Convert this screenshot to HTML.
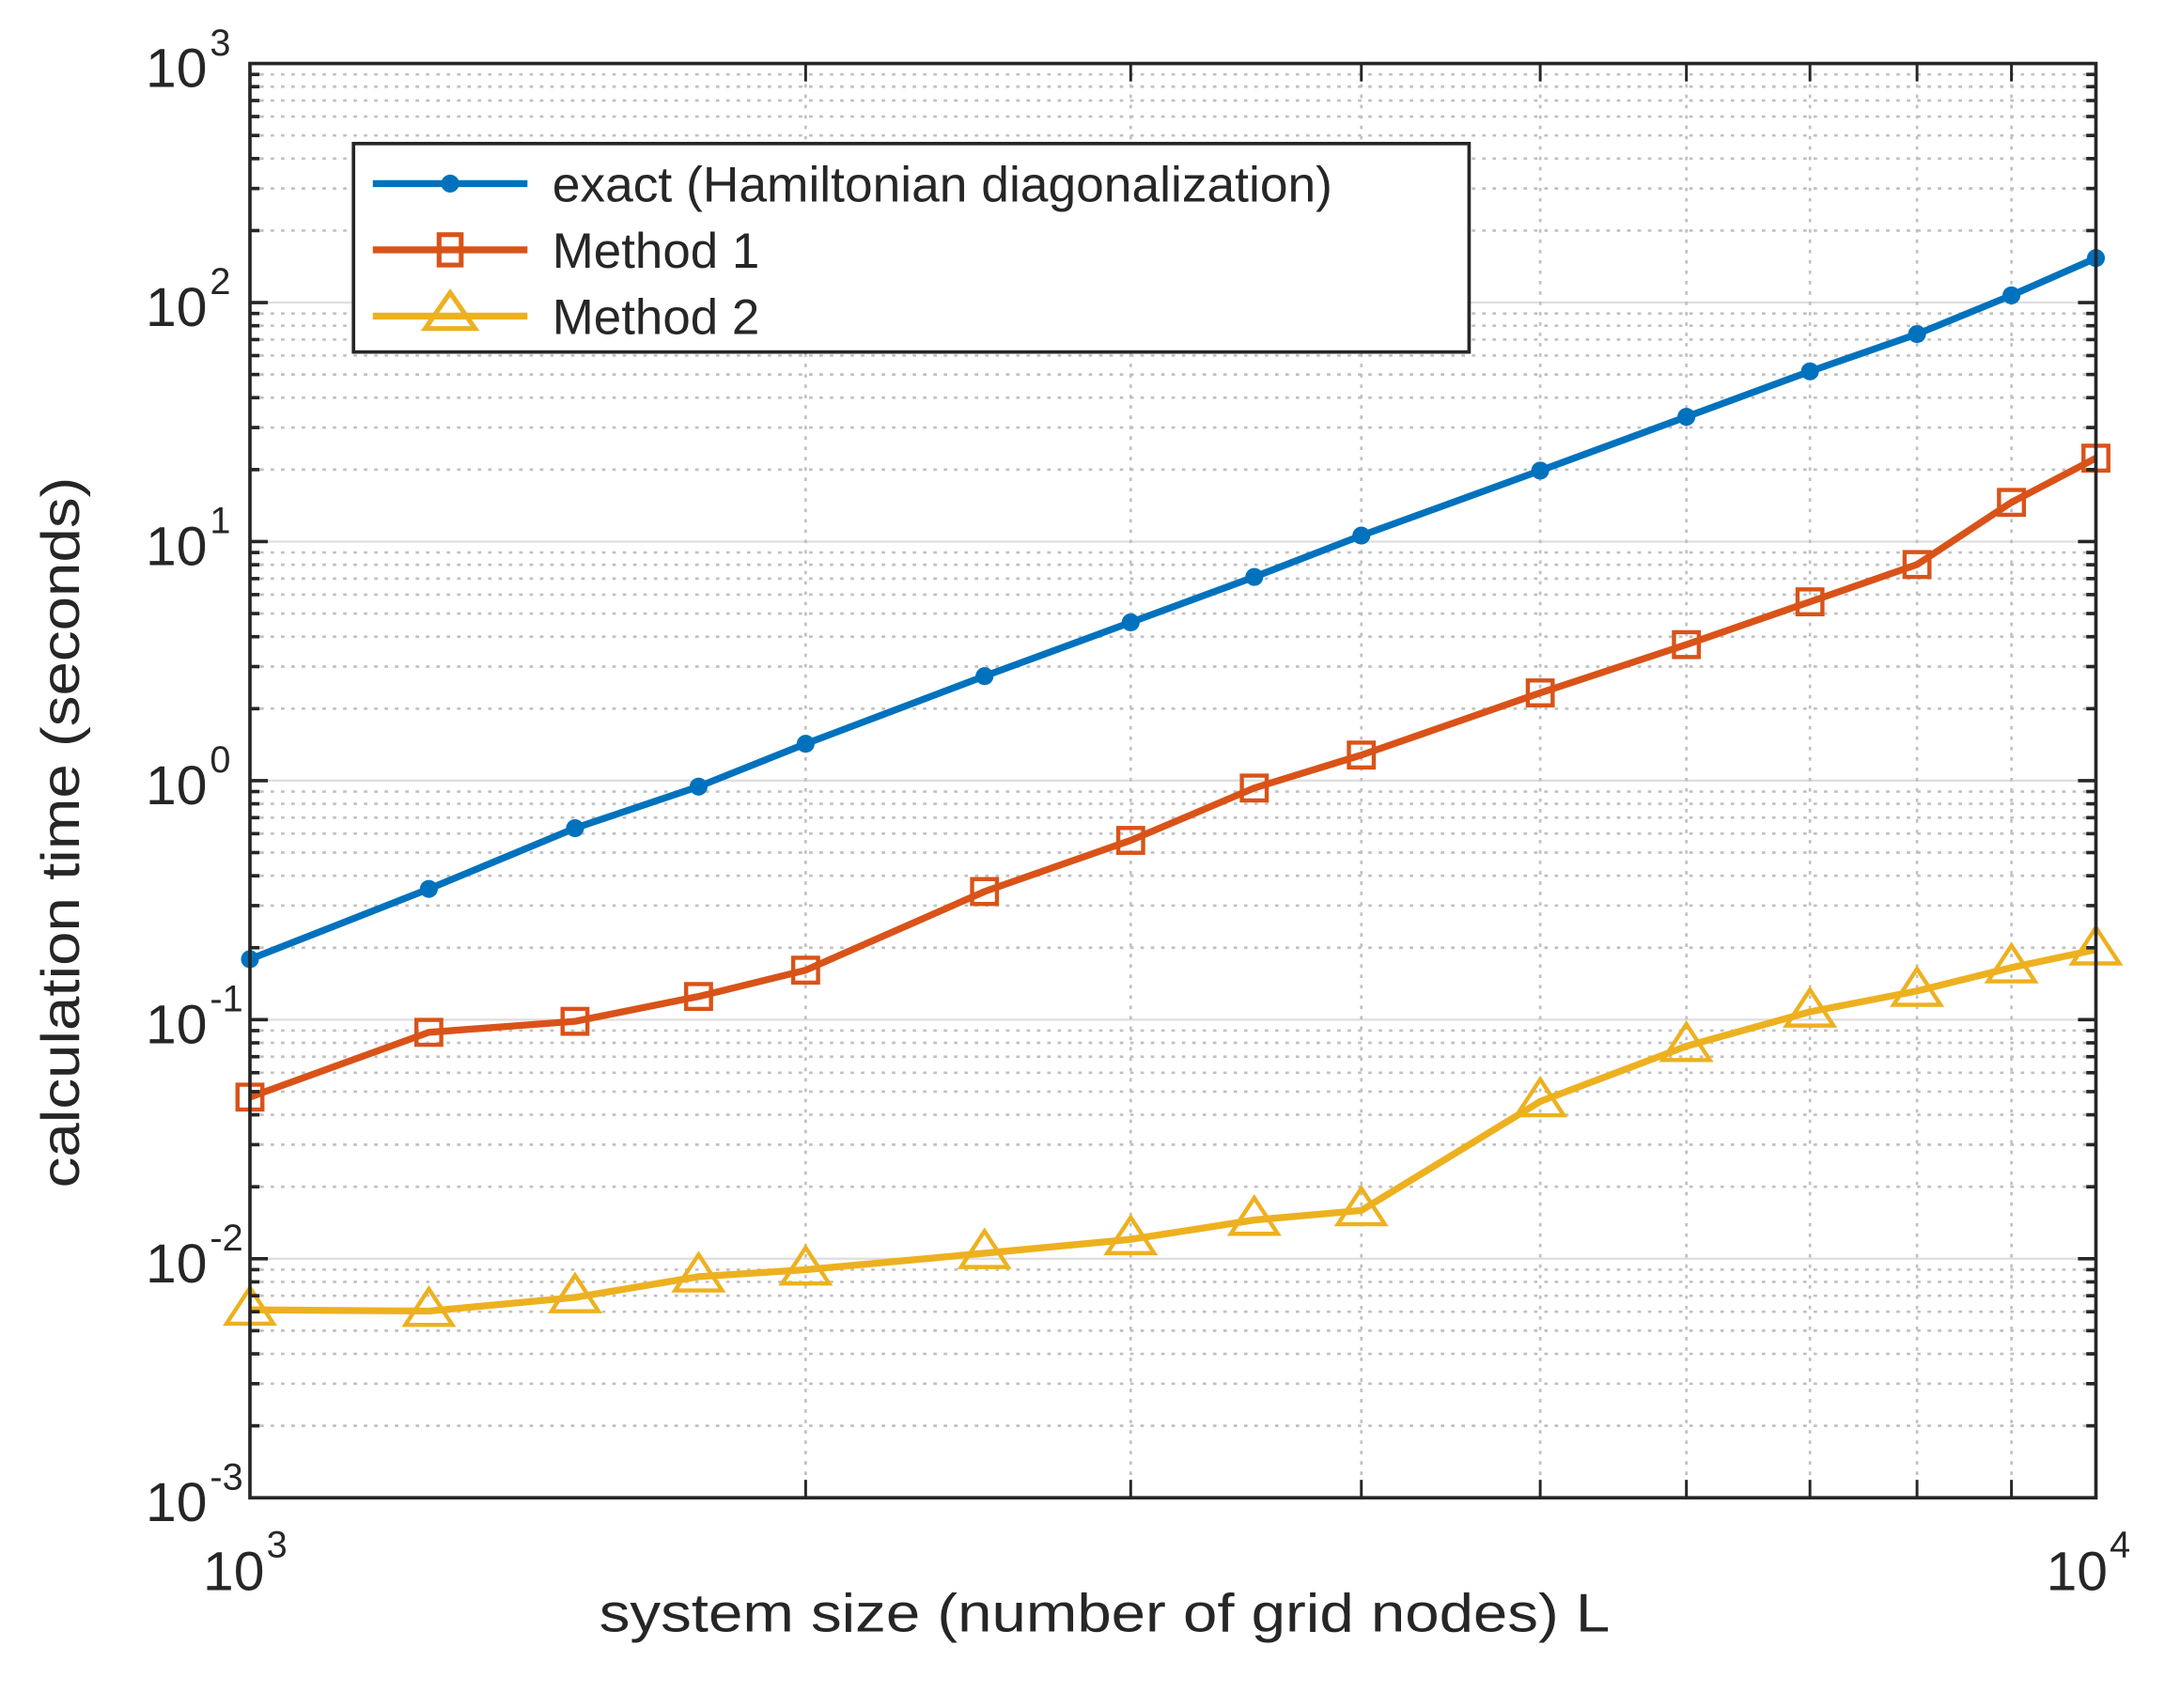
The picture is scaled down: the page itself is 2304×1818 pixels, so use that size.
<!DOCTYPE html>
<html><head><meta charset="utf-8"><style>
html,body{margin:0;padding:0;background:#fff;}
svg{display:block;}
text{font-family:"Liberation Sans",sans-serif;fill:#262626;}
</style></head><body>
<svg id="s" width="2304" height="1818" viewBox="0 0 1568 1237.3" xmlns="http://www.w3.org/2000/svg">
<rect x="0" y="0" width="1568" height="1237.3" fill="#fff"/>
<g id="grid"></g>
<g id="series"></g>
<rect x="181" y="46" width="1337" height="1039" fill="none" stroke="#262626" stroke-width="2.5"/>
<g id="ticks"></g>
<g id="labels" font-size="40"></g>
<text x="800" y="1182" font-size="39" text-anchor="middle" textLength="732" lengthAdjust="spacingAndGlyphs">system size (number of grid nodes) L</text>
<text transform="translate(57,603) rotate(-90)" font-size="39" text-anchor="middle" textLength="515" lengthAdjust="spacingAndGlyphs">calculation time (seconds)</text>
<g id="legend">
<rect x="256" y="104" width="808" height="151" fill="#fff" stroke="#262626" stroke-width="2.5"/>
<line x1="270" y1="133" x2="382" y2="133" stroke="#0072BD" stroke-width="5"/>
<circle cx="326" cy="133" r="6.5" fill="#0072BD"/>
<text x="400" y="146" font-size="36" fill="#000" textLength="565" lengthAdjust="spacingAndGlyphs">exact (Hamiltonian diagonalization)</text>
<line x1="270" y1="181" x2="382" y2="181" stroke="#D95319" stroke-width="5"/>
<rect x="318" y="170" width="16" height="22" fill="none" stroke="#D95319" stroke-width="3.5"/>
<text x="400" y="194" font-size="36" fill="#000">Method 1</text>
<line x1="270" y1="229" x2="382" y2="229" stroke="#EDB120" stroke-width="5"/>
<polygon points="326,212 344,238 308,238" fill="none" stroke="#EDB120" stroke-width="3.5"/>
<text x="400" y="242" font-size="36" fill="#000">Method 2</text>
</g>
</svg>
<script>
const NS="http://www.w3.org/2000/svg";
const X0=181,X1=1518,Y0=46,Y1=1085,D=(Y1-Y0)/6;
function el(p,t,a){const e=document.createElementNS(NS,t);for(const k in a)e.setAttribute(k,a[k]);p.appendChild(e);return e;}
const g=document.getElementById('grid'),tk=document.getElementById('ticks'),lb=document.getElementById('labels'),sr=document.getElementById('series');
const xs=v=>X0+Math.log10(v/1000)*(X1-X0);
for(let d=0;d<6;d++){
  for(let k=1;k<=9;k++){
    if(k==1&&d==0)continue;
    const y=Y1-(d+Math.log10(k))*D;
    if(k==1){el(g,'line',{x1:X0,x2:X1,y1:y,y2:y,stroke:'#dedede','stroke-width':1.5});
      el(tk,'line',{x1:X0,x2:X0+13,y1:y,y2:y,stroke:'#262626','stroke-width':2.5});
      el(tk,'line',{x1:X1,x2:X1-13,y1:y,y2:y,stroke:'#262626','stroke-width':2.5});}
    else{el(g,'line',{x1:X0,x2:X1,y1:y,y2:y,stroke:'#c0c0c0','stroke-width':1.8,'stroke-dasharray':'2.5 5'});
      el(tk,'line',{x1:X0,x2:X0+7,y1:y,y2:y,stroke:'#262626','stroke-width':2.5});
      el(tk,'line',{x1:X1,x2:X1-7,y1:y,y2:y,stroke:'#262626','stroke-width':2.5});}
  }
}
for(let k=2;k<=9;k++){
  const x=X0+Math.log10(k)*(X1-X0);
  el(g,'line',{x1:x,x2:x,y1:Y0,y2:Y1,stroke:'#c0c0c0','stroke-width':1.8,'stroke-dasharray':'2.5 5'});
  el(tk,'line',{x1:x,x2:x,y1:Y1,y2:Y1-13,stroke:'#262626','stroke-width':2});
  el(tk,'line',{x1:x,x2:x,y1:Y0,y2:Y0+13,stroke:'#262626','stroke-width':2});
}
for(let d=0;d<=6;d++){
  const y=Y1-d*D, e=d-3;
  const t=el(lb,'text',{x:150,y:y+17,'text-anchor':'end'});t.textContent='10';
  const s=el(lb,'text',{x:152,y:y-6,'font-size':27});s.textContent=String(e);
}
[[147,3],[1482,4]].forEach(([x,e])=>{
  const t=el(lb,'text',{x:x,y:1152});t.textContent='10';
  const s=el(lb,'text',{x:x+46,y:1128,'font-size':27});s.textContent=e;
});
const L=[1000,1250,1500,1750,2000,2500,3000,3500,4000,5000,6000,7000,8000,9000,10000];
const A=[-0.747,-0.453,-0.199,-0.025,0.154,0.437,0.662,0.852,1.025,1.297,1.522,1.712,1.868,2.030,2.186];
const B=[-1.324,-1.053,-1.007,-0.903,-0.793,-0.464,-0.250,-0.031,0.107,0.367,0.569,0.748,0.904,1.164,1.349];
const C=[-2.214,-2.219,-2.162,-2.075,-2.046,-1.977,-1.919,-1.838,-1.798,-1.342,-1.111,-0.967,-0.880,-0.782,-0.707];
function pts(arr){return arr.map((v,i)=>[xs(L[i]),Y1-(v+3)*D]);}
function line(p,c){el(sr,'polyline',{points:p.map(q=>q.join(',')).join(' '),fill:'none',stroke:c,'stroke-width':5,'stroke-linejoin':'round'});}
const pa=pts(A),pb=pts(B),pc=pts(C);
line(pa,'#0072BD');pa.forEach(([x,y])=>el(sr,'circle',{cx:x,cy:y,r:6.5,fill:'#0072BD'}));
line(pb,'#D95319');pb.forEach(([x,y])=>el(sr,'rect',{x:x-9,y:y-9,width:18,height:18,fill:'none',stroke:'#D95319','stroke-width':3}));
line(pc,'#EDB120');pc.forEach(([x,y])=>el(sr,'polygon',{points:`${x},${y-16} ${x+17},${y+10} ${x-17},${y+10}`,fill:'none',stroke:'#EDB120','stroke-width':3}));
</script>
</body></html>
